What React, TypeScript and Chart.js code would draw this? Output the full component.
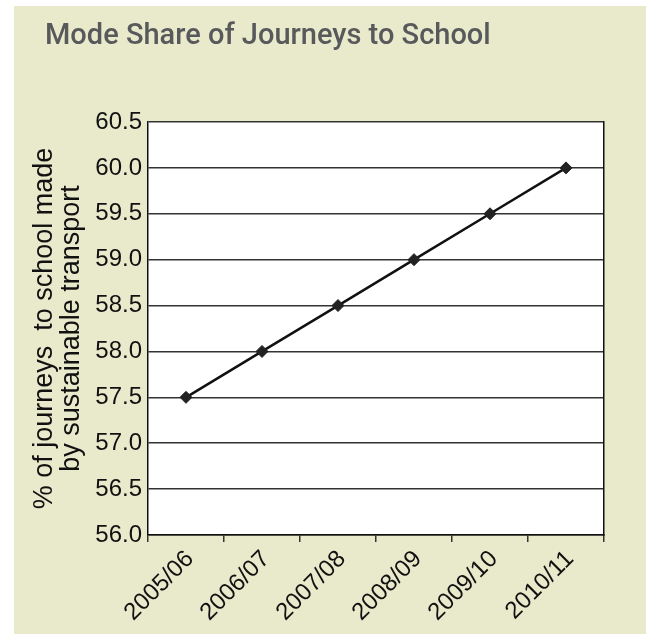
import { useEffect, useRef } from "react";
import { Chart, registerables } from "chart.js";

Chart.register(...registerables);

// School years on the category axis
const categories = ["2005/06", "2006/07", "2007/08", "2008/09", "2009/10", "2010/11"];
// Share of journeys to school made by sustainable transport (%)
const sustainableShare = [57.5, 58.0, 58.5, 59.0, 59.5, 60.0];

const yMin = 56.0;
const yMax = 60.5;
const yStep = 0.5;

const chartTitle = "Mode Share of Journeys to School";
const yAxisTitle = ["% of journeys  to school made", "by sustainable transport"];

const PANEL_BG = "#e9e9cb";
const INK = "#111111";
const GRID = "#333333";

// Fills the plotting area white so it stands out from the panel colour
const plotBackground = {
  id: "plotBackground",
  beforeDraw(chart: any) {
    const { ctx, chartArea } = chart;
    if (!chartArea) return;
    ctx.save();
    ctx.fillStyle = "#ffffff";
    ctx.fillRect(chartArea.left, chartArea.top, chartArea.width, chartArea.height);
    ctx.restore();
  },
};

export default function App() {
  const canvasRef = useRef<HTMLCanvasElement | null>(null);

  useEffect(() => {
    const canvas = canvasRef.current;
    if (!canvas) return;

    const sansFamily = "'Liberation Sans', Arial, sans-serif";
    const tickFont = { family: sansFamily, size: 24 };

    const chart = new Chart(canvas, {
      type: "line",
      data: {
        labels: categories,
        datasets: [
          {
            data: sustainableShare,
            borderColor: INK,
            borderWidth: 2.5,
            tension: 0,
            pointStyle: "rectRot",
            pointRadius: 6,
            pointBackgroundColor: "#222222",
            pointBorderColor: "#222222",
            pointBorderWidth: 1,
            fill: false,
          },
        ],
      },
      options: {
        responsive: false,
        animation: false,
        layout: { padding: { left: 31, right: 42, top: 0, bottom: 0 } },
        plugins: {
          legend: { display: false },
          tooltip: { enabled: false },
          title: {
            display: true,
            text: chartTitle,
            align: "start",
            color: "#58595b",
            font: { family: "Roboto, 'Noto Sans', sans-serif", size: 29, weight: "500", lineHeight: 1.2 },
            padding: { top: 13, bottom: 68.2 },
          },
        },
        scales: {
          x: {
            type: "category",
            offset: true,
            grid: {
              display: true,
              drawOnChartArea: false,
              drawTicks: true,
              tickLength: 7,
              offset: true,
              color: GRID,
              lineWidth: 1.5,
            },
            border: { display: true, color: INK, width: 1.5 },
            ticks: {
              color: INK,
              font: tickFont,
              minRotation: 45,
              maxRotation: 45,
              padding: 3,
              labelOffset: 4,
              autoSkip: false,
            },
            afterFit: (scale: any) => {
              scale.height = 99;
            },
          },
          y: {
            min: yMin,
            max: yMax,
            grid: { color: GRID, lineWidth: 1.5, drawTicks: false },
            border: { display: true, color: INK, width: 1.5 },
            ticks: {
              stepSize: yStep,
              padding: 6,
              color: INK,
              font: tickFont,
              callback: (value: any) => Number(value).toFixed(1),
            },
            title: {
              display: true,
              text: yAxisTitle,
              color: INK,
              font: { family: sansFamily, size: 27, lineHeight: 1 },
              padding: { top: -14, bottom: 0 },
            },
            afterFit: (scale: any) => {
              scale.width = 103;
            },
          },
          y2: {
            position: "right",
            min: yMin,
            max: yMax,
            grid: { display: false, drawTicks: false },
            border: { display: true, color: INK, width: 1.5 },
            ticks: { display: false },
            afterFit: (scale: any) => {
              scale.width = 0;
            },
          },
        },
      },
      plugins: [plotBackground],
    });

    return () => {
      chart.destroy();
    };
  }, []);

  return (
    <div style={{ position: "absolute", left: 0, top: 0, width: 652, height: 634 }}>
      <canvas
        ref={canvasRef}
        width={632}
        height={628}
        style={{ position: "absolute", left: 14, top: 6, width: 632, height: 628, background: PANEL_BG }}
      />
    </div>
  );
}
